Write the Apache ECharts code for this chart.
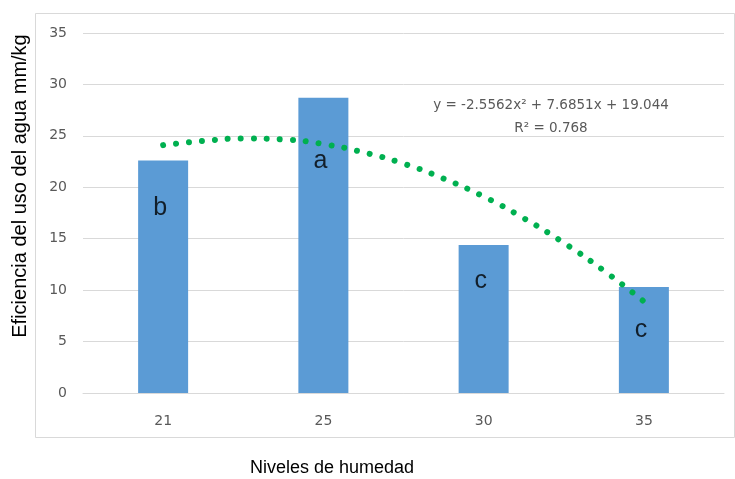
<!DOCTYPE html>
<html>
<head>
<meta charset="utf-8">
<script src="https://cdn.jsdelivr.net/npm/echarts@6/dist/echarts.min.js"></script>
<style>
  html, body { margin: 0; padding: 0; background: #fff; }
  #chart { width: 735px; height: 479px; }
</style>
</head>
<body>
<div id="chart"></div>
<script>
// Moisture levels and water-use efficiency per level
const categories = ['21', '25', '30', '35'];
const efficiency = [22.6, 28.7, 14.4, 10.3];
// Significance letters and the height at which each is written
const letters = ['b', 'a', 'c', 'c'];
const letterHeights = [18.0, 22.5, 10.9, 6.1];
// Second-order trend line sampled along the category positions (1..4)
const trendX = [1, 1.25, 1.5, 1.75, 2, 2.25, 2.5, 2.75, 3, 3.25, 3.5, 3.75, 4];
const trendY = [24.1, 24.5, 24.75, 24.65, 24.2, 23.4, 22.3, 20.85, 19.1, 17.0, 14.6, 11.9, 8.9];
const yTicks = { min: 0, max: 35, interval: 5 };
const equationLines = ['y = -2.5562x\u00b2 + 7.6851x + 19.044', 'R\u00b2 = 0.768'];
const xTitle = 'Niveles de humedad';
const yTitle = 'Eficiencia del uso del agua mm/kg';

const chart = echarts.init(document.getElementById('chart'), null, { renderer: 'canvas' });

const tickColor = '#595959';
const gridColor = '#d9d9d9';
const tickFont = 'DejaVu Sans';

chart.setOption({
  animation: false,
  backgroundColor: '#ffffff',
  grid: { left: 83, right: 11, top: 33, bottom: 86, containLabel: false },
  xAxis: [
    {
      type: 'category',
      data: categories,
      axisLine: { show: true, lineStyle: { color: gridColor, width: 1 } },
      axisTick: { show: false },
      axisLabel: { color: tickColor, fontSize: 14, fontFamily: tickFont, margin: 21 }
    },
    {
      type: 'value',
      min: 0.5,
      max: 4.5,
      show: false
    }
  ],
  yAxis: {
    type: 'value',
    min: yTicks.min,
    max: yTicks.max,
    interval: yTicks.interval,
    axisLine: { show: false },
    axisTick: { show: false },
    splitLine: { lineStyle: { color: gridColor, width: 1 } },
    axisLabel: { color: tickColor, fontSize: 14, fontFamily: tickFont, margin: 16 }
  },
  series: [
    {
      type: 'bar',
      data: efficiency,
      barWidth: 50,
      itemStyle: { color: '#5b9bd5' },
      z: 2
    },
    {
      type: 'line',
      xAxisIndex: 1,
      data: trendX.map((x, i) => [x, trendY[i]]),
      smooth: 0.5,
      showSymbol: false,
      symbol: 'none',
      lineStyle: { color: '#00b050', width: 6, type: [0.01, 13], cap: 'round' },
      z: 3
    },
    {
      type: 'scatter',
      data: letters.map((t, i) => [i, letterHeights[i]]),
      symbolSize: 0,
      label: {
        show: true,
        position: 'inside',
        formatter: (p) => letters[p.dataIndex],
        color: '#000',
        fontSize: 25,
        fontFamily: 'Liberation Sans',
        offset: [-3, 0]
      },
      z: 4
    }
  ],
  graphic: [
    {
      type: 'rect',
      x: 0, y: 0,
      shape: { x: 35.5, y: 13.5, width: 699, height: 424 },
      style: { fill: 'none', stroke: gridColor, lineWidth: 1 },
      silent: true,
      z: -1
    },
    {
      type: 'text',
      x: 551, y: 105,
      style: {
        text: equationLines[0], fill: tickColor, fontSize: 13.5, fontFamily: tickFont,
        align: 'center', verticalAlign: 'middle'
      }
    },
    {
      type: 'text',
      x: 551, y: 128,
      style: {
        text: equationLines[1], fill: tickColor, fontSize: 13.5, fontFamily: tickFont,
        align: 'center', verticalAlign: 'middle'
      }
    },
    {
      type: 'text',
      x: 332, y: 468,
      style: {
        text: xTitle, fill: '#000', fontSize: 18, fontFamily: 'Liberation Sans',
        align: 'center', verticalAlign: 'middle'
      }
    },
    {
      type: 'text',
      x: 20, y: 186,
      rotation: Math.PI / 2,
      style: {
        text: yTitle, fill: '#000', fontSize: 20, fontFamily: 'Liberation Sans',
        align: 'center', verticalAlign: 'middle'
      }
    }
  ]
});
</script>
</body>
</html>
